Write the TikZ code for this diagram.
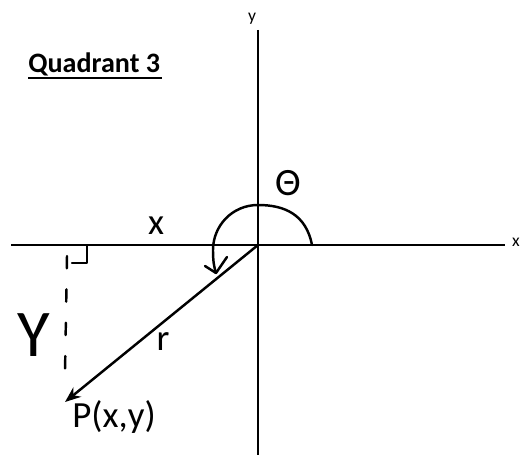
\documentclass[tikz,border=0pt]{standalone}
\usepackage{fontspec}
\setmainfont{Carlito}
\usetikzlibrary{arrows.meta, positioning}
\tikzset{
  axis/.style={line width=1.1pt, draw=black},
  hand/.style={line width=1.4pt, draw=black, line cap=round, line join=round},
  lbl/.style={inner sep=0pt, font=\fontsize{10}{10}\selectfont},
  handlbl/.style={inner sep=0pt, font=\fontsize{21}{21}\selectfont},
}
\begin{document}
\begin{tikzpicture}[x=0.02cm, y=-0.02cm]
  \useasboundingbox (0,0) rectangle (521,459);

  % axes
  \coordinate (O) at (258,245);
  \coordinate (ytop) at (258,30);
  \coordinate (ybot) at (258,455);
  \coordinate (xlft) at (11,245);
  \coordinate (xrgt) at (505,245);
  \draw[axis] (ytop) -- (ybot);
  \draw[axis] (xlft) -- (xrgt);
  \node[lbl] (ylab) at (252,19) {y};
  \node[lbl] (xlab) at (516,242) {x};

  % title
  \node[inner sep=0pt, anchor=base west, font=\fontsize{16}{16}\selectfont\bfseries]
       (title) at (28,73) {Quadrant 3};
  \draw[line width=1.1pt] (title.base west) ++(0,5) -- ++(134,0);

  % angle theta
  \coordinate (a0) at (312,245);
  \coordinate (atip) at (216,273);
  \draw[hand] (a0) .. controls (306,214) and (284,205) .. (258,205)
       .. controls (232,205) and (213,226) .. (213,250)
       .. controls (213,261) and (214,267) .. (atip);
  \draw[hand] (205,266) -- (atip) -- (227,257);
  \node[handlbl, font=\fontsize{22}{22}\selectfont] (theta) at (288,183) {Θ};

  % point P and radius r
  \coordinate (P) at (65,402);
  \draw[hand, -{Stealth[length=9pt, width=7pt]}] (O) -- (P);
  \node[handlbl, anchor=north west] (plab) at (72,400) {P(x,y)};
  \node[handlbl] (rlab) at (163,342) {r};

  % x and y legs
  \node[handlbl] (xleg) at (156,226) {x};
  \coordinate (d0) at (67,256);
  \coordinate (d1) at (65,373);
  \draw[hand, dash pattern=on 7pt off 12pt] (d0) -- (d1);
  \draw[hand] (72,263) -- (87,263) -- (87,246);
  \node[handlbl, font=\fontsize{38}{38}\selectfont] (yleg) at (34,335) {Y};
\end{tikzpicture}
\end{document}
